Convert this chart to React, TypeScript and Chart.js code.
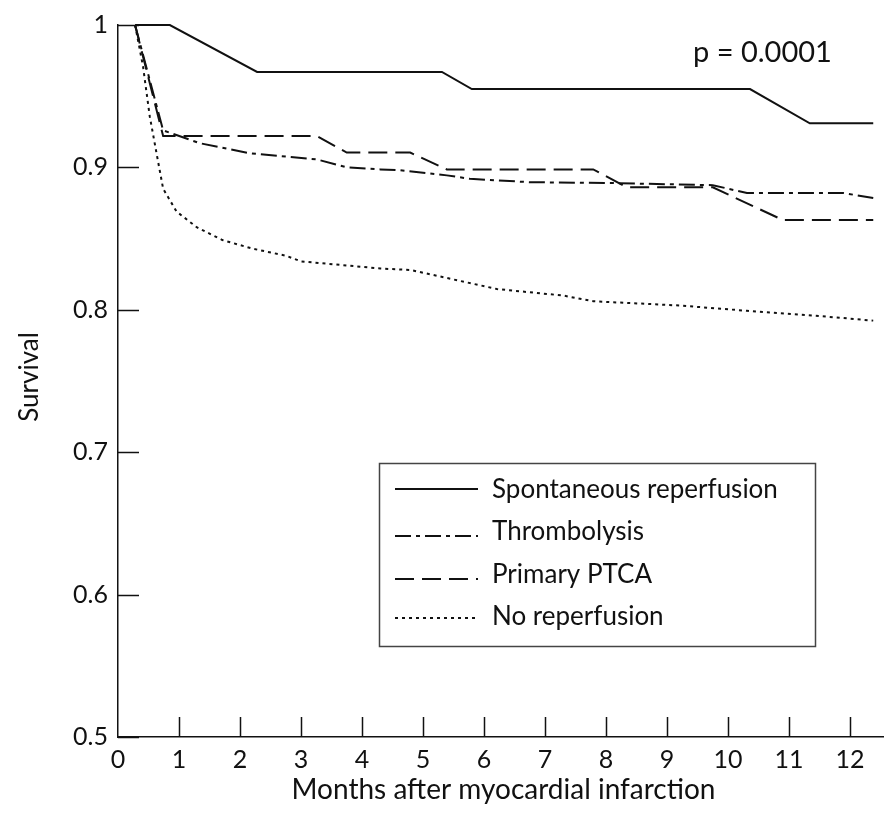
import React, { useEffect, useRef } from "react";
import { Chart, registerables } from "chart.js";

Chart.register(...registerables);

// ---- Data (months after MI, survival) ----
const spontaneousX = [0.28, 0.85, 2.28, 5.31, 5.8, 10.36, 11.34, 12.38];
const spontaneousY = [1.0, 1.0, 0.967, 0.967, 0.955, 0.955, 0.931, 0.931];

const thrombolysisX = [0.28, 0.74, 1.34, 2.15, 3.26, 3.75, 4.3, 4.62, 5.39, 5.77, 6.75, 8.11, 9.75, 10.31, 11.89, 12.38];
const thrombolysisY = [1.0, 0.926, 0.917, 0.91, 0.9056, 0.9, 0.8986, 0.898, 0.8944, 0.892, 0.8896, 0.889, 0.8875, 0.882, 0.882, 0.8785];

const ptcaX = [0.28, 0.74, 3.26, 3.75, 4.79, 5.39, 7.79, 8.34, 9.75, 10.9, 12.38];
const ptcaY = [1.0, 0.922, 0.922, 0.9104, 0.9104, 0.8986, 0.8986, 0.886, 0.886, 0.863, 0.863];

const noReperfusionX = [0.28, 0.41, 0.52, 0.64, 0.74, 0.96, 1.29, 1.71, 2.2, 2.75, 3.0, 4.3, 4.79, 6.21, 7.3, 7.79, 9.21, 10.31, 11.39, 12.38];
const noReperfusionY = [1.0, 0.971, 0.936, 0.908, 0.885, 0.869, 0.858, 0.849, 0.843, 0.838, 0.834, 0.829, 0.828, 0.8146, 0.81, 0.806, 0.803, 0.7993, 0.796, 0.7924];

const seriesLabels = ["Spontaneous reperfusion", "Thrombolysis", "Primary PTCA", "No reperfusion"];

const xTicks = [0, 1, 2, 3, 4, 5, 6, 7, 8, 9, 10, 11, 12];
const xTickLabels = ["0", "1", "2", "3", "4", "5", "6", "7", "8", "9", "10", "11", "12"];
const yTicks = [0.5, 0.6, 0.7, 0.8, 0.9, 1.0];
const yTickLabels = ["0.5", "0.6", "0.7", "0.8", "0.9", "1"];

const xTitle = "Months after myocardial infarction";
const yTitle = "Survival";
const pValueText = "p = 0.0001";

const FONT = "Lato, 'Liberation Sans', sans-serif";
const INK = "#111111";

const toPoints = (xs: number[], ys: number[]) => xs.map((x, i) => ({ x, y: ys[i] }));

const overlayPlugin = {
  id: "overlay",
  afterDraw(chart: any) {
    const { ctx, chartArea, scales } = chart;
    const xs = scales.x;
    const ys = scales.y;
    ctx.save();
    // inward tick marks
    ctx.strokeStyle = INK;
    ctx.lineWidth = 1.5;
    ctx.setLineDash([]);
    ctx.beginPath();
    yTicks.forEach((v) => {
      const py = Math.round(ys.getPixelForValue(v)) + 0.5;
      ctx.moveTo(chartArea.left, py);
      ctx.lineTo(chartArea.left + 21, py);
    });
    xTicks.forEach((v) => {
      if (v === 0) return;
      const px = Math.round(xs.getPixelForValue(v)) + 0.5;
      ctx.moveTo(px, chartArea.bottom);
      ctx.lineTo(px, chartArea.bottom - 20);
    });
    ctx.stroke();

    // axis titles
    ctx.fillStyle = INK;
    ctx.font = `28px ${FONT}`;
    ctx.textAlign = "center";
    ctx.textBaseline = "middle";
    ctx.fillText(xTitle, (chartArea.left + chartArea.right) / 2 + 3, 790);
    ctx.save();
    ctx.font = `26px ${FONT}`;
    ctx.translate(30, (chartArea.top + chartArea.bottom) / 2 - 4);
    ctx.rotate(-Math.PI / 2);
    ctx.fillText(yTitle, 0, 0);
    ctx.restore();

    // p value
    ctx.font = `29px ${FONT}`;
    ctx.textAlign = "left";
    ctx.fillText(pValueText, 693, 53);

    // legend box
    const bx = 379, by = 463, bw = 436, bh = 183;
    ctx.strokeStyle = "#444";
    ctx.lineWidth = 1.5;
    ctx.strokeRect(bx + 0.5, by + 0.5, bw, bh);
    const rows = [490, 532, 575, 617];
    const lineYs = [489, 536, 579, 618];
    chart.data.datasets.forEach((ds: any, i: number) => {
      ctx.strokeStyle = INK;
      ctx.lineWidth = 2;
      ctx.setLineDash(ds.borderDash || []);
      ctx.beginPath();
      ctx.moveTo(395, lineYs[i]);
      ctx.lineTo(478, lineYs[i]);
      ctx.stroke();
      ctx.setLineDash([]);
      ctx.font = `26px ${FONT}`;
      ctx.fillStyle = INK;
      ctx.textAlign = "left";
      ctx.textBaseline = "middle";
      ctx.fillText(ds.label, 492, rows[i]);
    });
    ctx.restore();
  },
};

export default function App() {
  const canvasRef = useRef<HTMLCanvasElement | null>(null);

  useEffect(() => {
    if (!canvasRef.current) return;
    const common = {
      borderColor: INK,
      borderWidth: 2,
      pointRadius: 0,
      tension: 0,
      fill: false,
      clip: false as any,
    };
    const chart = new Chart(canvasRef.current, {
      type: "line",
      data: {
        datasets: [
          { ...common, label: seriesLabels[0], data: toPoints(spontaneousX, spontaneousY), borderDash: [] },
          { ...common, label: seriesLabels[1], data: toPoints(thrombolysisX, thrombolysisY), borderDash: [16, 5, 4, 5] },
          { ...common, label: seriesLabels[2], data: toPoints(ptcaX, ptcaY), borderDash: [19, 8] },
          { ...common, label: seriesLabels[3], data: toPoints(noReperfusionX, noReperfusionY), borderDash: [3, 4] },
        ],
      },
      options: {
        animation: false,
        responsive: false,
        devicePixelRatio: 1,
        layout: { padding: { top: 17, right: 8, left: 0, bottom: 0 } },
        plugins: { legend: { display: false }, tooltip: { enabled: false } },
        scales: {
          x: {
            type: "linear",
            min: 0,
            max: 12.54,
            afterBuildTicks: (scale: any) => {
              scale.ticks = xTicks.map((v) => ({ value: v }));
            },
            afterFit: (scale: any) => {
              scale.height = 76;
            },
            ticks: {
              autoSkip: false,
              maxRotation: 0,
              padding: 8,
              color: INK,
              font: { family: FONT, size: 25 },
              callback: (v: any) => xTickLabels[xTicks.indexOf(Number(v))] ?? "",
            },
            grid: { display: false, drawTicks: false },
            border: { display: true, color: INK, width: 1.5 },
          },
          y: {
            type: "linear",
            min: 0.5,
            max: 1,
            afterBuildTicks: (scale: any) => {
              scale.ticks = yTicks.map((v) => ({ value: v }));
            },
            afterFit: (scale: any) => {
              scale.width = 118;
            },
            ticks: {
              autoSkip: false,
              padding: 10,
              color: INK,
              font: { family: FONT, size: 25 },
              callback: (v: any) => {
                const idx = yTicks.findIndex((t) => Math.abs(t - Number(v)) < 1e-6);
                return idx >= 0 ? yTickLabels[idx] : "";
              },
            },
            grid: { display: false, drawTicks: false },
            border: { display: true, color: INK, width: 1.5 },
          },
        },
      },
      plugins: [overlayPlugin],
    });
    return () => chart.destroy();
  }, []);

  return (
    <div style={{ position: "absolute", left: 0, top: 0, width: 891, height: 813, background: "#fff" }}>
      <canvas ref={canvasRef} width={891} height={813} style={{ display: "block" }} />
    </div>
  );
}
